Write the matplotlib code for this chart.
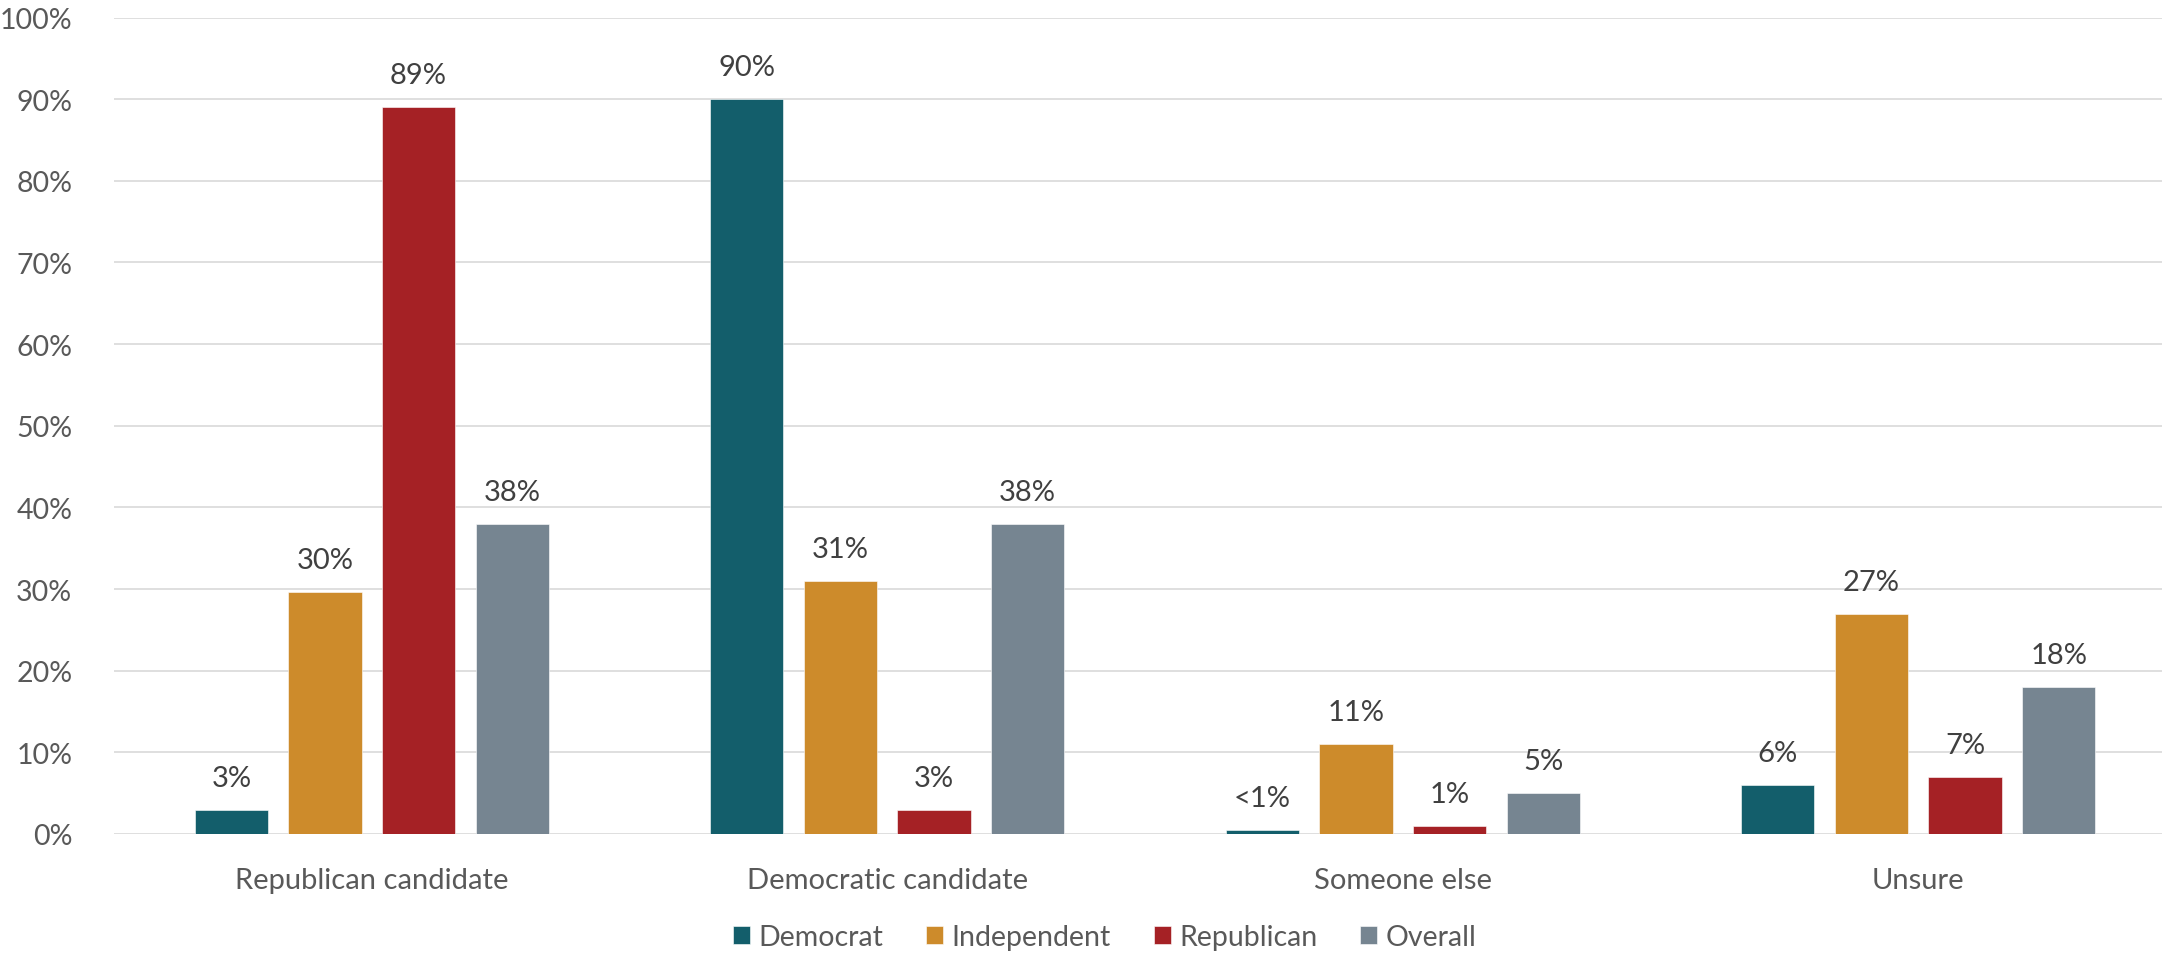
import matplotlib.pyplot as plt
import numpy as np

plt.rcParams['font.family'] = ['Lato', 'DejaVu Sans']

categories = ['Republican candidate', 'Democratic candidate', 'Someone else', 'Unsure']
series = ['Democrat', 'Independent', 'Republican', 'Overall']
democrat = [3, 90, 0.5, 6]
independent = [29.6, 31, 11, 27]
republican = [89, 3, 1, 7]
overall = [38, 38, 5, 18]
democrat_lbl = ['3%', '90%', '<1%', '6%']
independent_lbl = ['30%', '31%', '11%', '27%']
republican_lbl = ['89%', '3%', '1%', '7%']
overall_lbl = ['38%', '38%', '5%', '18%']
colors = ['#135E6B', '#CD8B2B', '#A52125', '#768591']

values = [democrat, independent, republican, overall]
labels = [democrat_lbl, independent_lbl, republican_lbl, overall_lbl]

fig = plt.figure(figsize=(21.62, 9.54), dpi=100)
ax = fig.add_axes([114 / 2162, 119 / 954, 1 - 114 / 2162, (835 - 18.5) / 954])

x = np.arange(len(categories))
step = 0.1816
width = 0.142
for i, (vals, lbls, c, name) in enumerate(zip(values, labels, colors, series)):
    xs = x + (i - 1.5) * step
    ax.bar(xs, vals, width, color=c, label=name, zorder=3,
           edgecolor='white', linewidth=0.4)
    for xi, v, t in zip(xs, vals, lbls):
        ax.text(xi, v + 3.9, t, ha='center', va='center', fontsize=21, color='#404040')

ax.set_xlim(-0.5, 3.5 - 14 / 515)
ax.set_ylim(0, 100)
ax.set_yticks(range(0, 101, 10))
ax.set_yticklabels([f'{v}%' for v in range(0, 101, 10)])
ax.yaxis.grid(True, color='#D9D9D9', linewidth=1.2, zorder=0)
ax.set_xticks(x)
ax.set_xticklabels(categories)
ax.tick_params(axis='y', length=0, pad=30, labelsize=20.5, labelcolor='#595959')
ax.tick_params(axis='x', length=0, pad=24, labelsize=21, labelcolor='#595959')
for s in ax.spines.values():
    s.set_visible(False)

fig.legend(loc='center', bbox_to_anchor=(0.511, 0.017), ncol=4, frameon=False,
           fontsize=20.5, labelcolor='#595959', handlelength=0.6, handleheight=0.6,
           handletextpad=0.3, columnspacing=1.5)

fig.savefig('out.png', dpi=100)
